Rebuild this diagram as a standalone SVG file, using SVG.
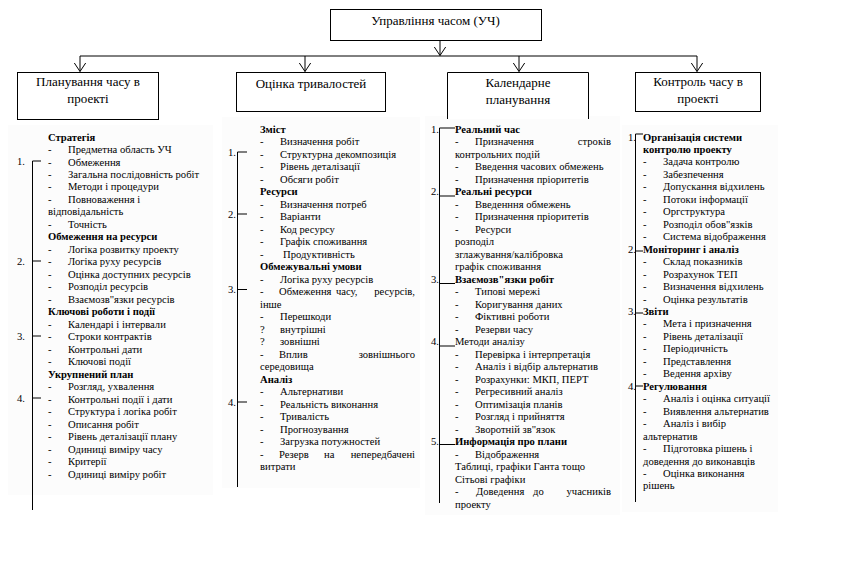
<svg xmlns="http://www.w3.org/2000/svg" width="853" height="586" viewBox="0 0 853 586">
<defs>
<marker id="chev" markerWidth="14" markerHeight="14" refX="9" refY="7" orient="auto" markerUnits="userSpaceOnUse">
<path d="M0,1 L9,7 L0,13" fill="none" stroke="#000" stroke-width="1"/>
</marker>
<style>
text{font-family:"Liberation Serif","Times New Roman",serif;fill:#000}
.h{font-size:13px;text-anchor:middle}
.t{font-size:10.6px}
.b{font-size:10.6px;font-weight:bold}
.box{fill:#fff;stroke:#000;stroke-width:1}
.ln{fill:none;stroke:#000;stroke-width:1}
.pn{fill:#fcfcfc;stroke:none}
</style>
</defs>
<rect width="853" height="586" fill="#fff"/>
<rect class="pn" x="8" y="125" width="205" height="370"/>
<rect class="pn" x="222" y="117" width="198" height="371"/>
<rect class="pn" x="425" y="116" width="195" height="399"/>
<rect class="pn" x="622" y="125" width="156" height="387"/>

<g id="connectors">
<path class="ln" d="M440,40 V55.5" marker-end="url(#chev)"/>
<path class="ln" d="M80,56 H697"/>
<path class="ln" d="M80,56 V71.5" marker-end="url(#chev)"/>
<path class="ln" d="M305,56 V71.5" marker-end="url(#chev)"/>
<path class="ln" d="M519,56 V71.5" marker-end="url(#chev)"/>
<path class="ln" d="M697,56 V71.5" marker-end="url(#chev)"/>
</g>

<g id="root">
<rect class="box" x="330.5" y="9.5" width="211" height="31"/>
<text class="h" x="435.5" y="24.5">Управління часом (УЧ)</text>
</g>
<g id="n1">
<rect class="box" x="17.5" y="72.5" width="141" height="47"/>
<text class="h" x="88" y="86">Планування часу в</text>
<text class="h" x="88" y="103">проекті</text>
</g>
<g id="n2">
<rect class="box" x="236.5" y="72.5" width="149" height="39"/>
<text class="h" x="311" y="88">Оцінка тривалостей</text>
</g>
<g id="n3">
<path class="box" d="M447.5,119 V72.5 H588.5 V119"/>
<text class="h" x="518" y="87">Календарне</text>
<text class="h" x="518" y="103.5">планування</text>
</g>
<g id="n4">
<rect class="box" x="635.5" y="72.5" width="125" height="39"/>
<text class="h" x="698" y="86">Контроль часу в</text>
<text class="h" x="698" y="103">проекті</text>
</g>

<g id="list1">
<path class="ln" d="M32.5,161 V510 M32.5,161 H41 M32.5,261 H41 M32.5,336 H41 M32.5,398 H41"/>
<text class="t" x="17" y="164.5">1.</text>
<text class="t" x="17" y="264.5">2.</text>
<text class="t" x="17" y="339.5">3.</text>
<text class="t" x="17" y="401.5">4.</text>
<text class="b" x="48" y="140.5">Стратегія</text>
<text class="t" x="48" y="153">-</text><text class="t" x="68" y="153">Предметна область УЧ</text>
<text class="t" x="48" y="165.5">-</text><text class="t" x="68" y="165.5">Обмеження</text>
<text class="t" x="48" y="177.9">-</text><text class="t" x="68" y="177.9">Загальна послідовність робіт</text>
<text class="t" x="48" y="190.4">-</text><text class="t" x="68" y="190.4">Методи і процедури</text>
<text class="t" x="48" y="202.9">-</text><text class="t" x="68" y="202.9">Повноваження і</text>
<text class="t" x="48" y="215.4">відповідальність</text>
<text class="t" x="48" y="227.9">-</text><text class="t" x="68" y="227.9">Точність</text>
<text class="b" x="48" y="240.3">Обмеження на ресурси</text>
<text class="t" x="48" y="252.8">-</text><text class="t" x="68" y="252.8">Логіка розвитку проекту</text>
<text class="t" x="48" y="265.3">-</text><text class="t" x="68" y="265.3">Логіка руху ресурсів</text>
<text class="t" x="48" y="277.8">-</text><text class="t" x="68" y="277.8">Оцінка доступних ресурсів</text>
<text class="t" x="48" y="290.3">-</text><text class="t" x="68" y="290.3">Розподіл ресурсів</text>
<text class="t" x="48" y="302.7">-</text><text class="t" x="68" y="302.7">Взаємозв"язки ресурсів</text>
<text class="b" x="48" y="315.2">Ключові роботи і події</text>
<text class="t" x="48" y="327.7">-</text><text class="t" x="68" y="327.7">Календарі і інтервали</text>
<text class="t" x="48" y="340.2">-</text><text class="t" x="68" y="340.2">Строки контрактів</text>
<text class="t" x="48" y="352.7">-</text><text class="t" x="68" y="352.7">Контрольні дати</text>
<text class="t" x="48" y="365.1">-</text><text class="t" x="68" y="365.1">Ключові події</text>
<text class="b" x="48" y="377.6">Укрупнений план</text>
<text class="t" x="48" y="390.1">-</text><text class="t" x="68" y="390.1">Розгляд, ухвалення</text>
<text class="t" x="48" y="402.6">-</text><text class="t" x="68" y="402.6">Контрольні події і дати</text>
<text class="t" x="48" y="415.1">-</text><text class="t" x="68" y="415.1">Структура і логіка робіт</text>
<text class="t" x="48" y="427.5">-</text><text class="t" x="68" y="427.5">Описання робіт</text>
<text class="t" x="48" y="440">-</text><text class="t" x="68" y="440">Рівень деталізації плану</text>
<text class="t" x="48" y="452.5">-</text><text class="t" x="68" y="452.5">Одиниці виміру часу</text>
<text class="t" x="48" y="465">-</text><text class="t" x="68" y="465">Критерії</text>
<text class="t" x="48" y="477.5">-</text><text class="t" x="68" y="477.5">Одиниці виміру робіт</text>
</g>

<g id="list2">
<path class="ln" d="M237.5,152 V487 M237.5,152 H247 M237.5,214 H247 M237.5,289.5 H247 M237.5,402 H247"/>
<text class="t" x="228" y="155.5">1.</text>
<text class="t" x="228" y="217.5">2.</text>
<text class="t" x="228" y="293">3.</text>
<text class="t" x="228" y="405.5">4.</text>
<text class="b" x="260" y="132.5">Зміст</text>
<text class="t" x="260" y="145">-</text><text class="t" x="280" y="145">Визначення робіт</text>
<text class="t" x="260" y="157.5">-</text><text class="t" x="280" y="157.5">Структурна декомпозиція</text>
<text class="t" x="260" y="170">-</text><text class="t" x="280" y="170">Рівень деталізації</text>
<text class="t" x="260" y="182.5">-</text><text class="t" x="280" y="182.5">Обсяги робіт</text>
<text class="b" x="260" y="195">Ресурси</text>
<text class="t" x="260" y="207.5">-</text><text class="t" x="280" y="207.5">Визначення потреб</text>
<text class="t" x="260" y="220">-</text><text class="t" x="280" y="220">Варіанти</text>
<text class="t" x="260" y="232.5">-</text><text class="t" x="280" y="232.5">Код ресурсу</text>
<text class="t" x="260" y="245">-</text><text class="t" x="280" y="245">Графік споживання</text>
<text class="t" x="260" y="257.5">-</text><text class="t" x="283" y="257.5">Продуктивність</text>
<text class="b" x="260" y="270">Обмежувальні умови</text>
<text class="t" x="260" y="282.5">-</text><text class="t" x="280" y="282.5">Логіка руху ресурсів</text>
<text class="t" x="260" y="295">-</text><text class="t" x="279" y="295">Обмеження</text><text class="t" x="336" y="295">часу,</text><text class="t" x="415" y="295" text-anchor="end">ресурсів,</text>
<text class="t" x="260" y="307.5">інше</text>
<text class="t" x="260" y="320">-</text><text class="t" x="280" y="320">Перешкоди</text>
<text class="t" x="260" y="332.5">?</text><text class="t" x="280" y="332.5">внутрішні</text>
<text class="t" x="260" y="345">?</text><text class="t" x="280" y="345">зовнішні</text>
<text class="t" x="260" y="357.5">-</text><text class="t" x="279" y="357.5">Вплив</text><text class="t" x="415" y="357.5" text-anchor="end">зовнішнього</text>
<text class="t" x="260" y="370">середовища</text>
<text class="b" x="260" y="382.5">Аналіз</text>
<text class="t" x="260" y="395">-</text><text class="t" x="280" y="395">Альтернативи</text>
<text class="t" x="260" y="407.5">-</text><text class="t" x="280" y="407.5">Реальність виконання</text>
<text class="t" x="260" y="420">-</text><text class="t" x="280" y="420">Тривалість</text>
<text class="t" x="260" y="432.5">-</text><text class="t" x="280" y="432.5">Прогнозування</text>
<text class="t" x="260" y="445">-</text><text class="t" x="280" y="445">Загрузка потужностей</text>
<text class="t" x="260" y="457.5">-</text><text class="t" x="279" y="457.5">Резерв</text><text class="t" x="324" y="457.5">на</text><text class="t" x="415" y="457.5" text-anchor="end">непередбачені</text>
<text class="t" x="260" y="470">витрати</text>
</g>

<g id="list3">
<path class="ln" d="M439.5,128 V503 M439.5,128 H455 M439.5,196 H455 M439.5,283.5 H455 M439.5,346 H455 M439.5,444.5 H455"/>
<text class="t" x="431" y="132.5">1.</text>
<text class="t" x="431" y="195">2.</text>
<text class="t" x="431" y="282.5">3.</text>
<text class="t" x="431" y="345">4.</text>
<text class="t" x="431" y="445">5.</text>
<text class="b" x="455" y="132.5">Реальний час</text>
<text class="t" x="455" y="145">-</text><text class="t" x="475" y="145">Призначення</text><text class="t" x="611" y="145" text-anchor="end">строків</text>
<text class="t" x="455" y="157.5">контрольних подій</text>
<text class="t" x="455" y="170">-</text><text class="t" x="475" y="170">Введення  часових обмежень</text>
<text class="t" x="455" y="182.5">-</text><text class="t" x="475" y="182.5">Призначення пріоритетів</text>
<text class="b" x="455" y="195">Реальні ресурси</text>
<text class="t" x="455" y="207.5">-</text><text class="t" x="475" y="207.5">Введенння обмежень</text>
<text class="t" x="455" y="220">-</text><text class="t" x="475" y="220">Призначення пріоритетів</text>
<text class="t" x="455" y="232.5">-</text><text class="t" x="475" y="232.5">Ресурси</text>
<text class="t" x="455" y="245">розподіл</text>
<text class="t" x="455" y="257.5">зглажування/калібровка</text>
<text class="t" x="455" y="270">графік споживання</text>
<text class="b" x="455" y="282.5">Взаємозв"язки робіт</text>
<text class="t" x="455" y="295">-</text><text class="t" x="475" y="295">Типові мережі</text>
<text class="t" x="455" y="307.5">-</text><text class="t" x="475" y="307.5">Коригування даних</text>
<text class="t" x="455" y="320">-</text><text class="t" x="475" y="320">Фіктивні роботи</text>
<text class="t" x="455" y="332.5">-</text><text class="t" x="475" y="332.5">Резерви часу</text>
<text class="t" x="455" y="345">Методи аналізу</text>
<text class="t" x="455" y="357.5">-</text><text class="t" x="475" y="357.5">Перевірка і інтерпретація</text>
<text class="t" x="455" y="370">-</text><text class="t" x="475" y="370">Аналіз і відбір альтернатив</text>
<text class="t" x="455" y="382.5">-</text><text class="t" x="475" y="382.5">Розрахунки: МКП, ПЕРТ</text>
<text class="t" x="455" y="395">-</text><text class="t" x="475" y="395">Регресивний аналіз</text>
<text class="t" x="455" y="407.5">-</text><text class="t" x="475" y="407.5">Оптимізація планів</text>
<text class="t" x="455" y="420">-</text><text class="t" x="475" y="420">Розгляд і прийняття</text>
<text class="t" x="455" y="432.5">-</text><text class="t" x="475" y="432.5">Зворотній зв"язок</text>
<text class="b" x="455" y="445">Информація про плани</text>
<text class="t" x="455" y="457.5">-</text><text class="t" x="475" y="457.5">Відображення</text>
<text class="t" x="455" y="470">Таблиці, графіки Ганта тощо</text>
<text class="t" x="455" y="482.5">Сітьові  графіки</text>
<text class="t" x="455" y="495">-</text><text class="t" x="476" y="495">Доведення</text><text class="t" x="533" y="495">до</text><text class="t" x="611" y="495" text-anchor="end">учасників</text>
<text class="t" x="455" y="507.5">проекту</text>
</g>

<g id="list4">
<path class="ln" d="M635.5,134 V502 M635.5,134 H643 M635.5,251 H643 M635.5,313 H643 M635.5,386 H643"/>
<text class="t" x="628" y="140.5">1.</text>
<text class="t" x="628" y="252.6">2.</text>
<text class="t" x="628" y="314.9">3.</text>
<text class="t" x="628" y="389.7">4.</text>
<text class="b" x="643" y="140.5">Організація системи</text>
<text class="b" x="643" y="153">контролю проекту</text>
<text class="t" x="643" y="165.4">-</text><text class="t" x="663" y="165.4">Задача контролю</text>
<text class="t" x="643" y="177.9">-</text><text class="t" x="663" y="177.9">Забезпечення</text>
<text class="t" x="643" y="190.3">-</text><text class="t" x="663" y="190.3">Допускання відхилень</text>
<text class="t" x="643" y="202.8">-</text><text class="t" x="663" y="202.8">Потоки інформації</text>
<text class="t" x="643" y="215.3">-</text><text class="t" x="663" y="215.3">Оргструктура</text>
<text class="t" x="643" y="227.7">-</text><text class="t" x="663" y="227.7">Розподіл обов"язків</text>
<text class="t" x="643" y="240.2">-</text><text class="t" x="663" y="240.2">Система відображення</text>
<text class="b" x="643" y="252.6">Моніторинг і аналіз</text>
<text class="t" x="643" y="265.1">-</text><text class="t" x="663" y="265.1">Склад показників</text>
<text class="t" x="643" y="277.6">-</text><text class="t" x="663" y="277.6">Розрахунок ТЕП</text>
<text class="t" x="643" y="290">-</text><text class="t" x="663" y="290">Визначення відхилень</text>
<text class="t" x="643" y="302.5">-</text><text class="t" x="663" y="302.5">Оцінка результатів</text>
<text class="b" x="643" y="314.9">Звіти</text>
<text class="t" x="643" y="327.4">-</text><text class="t" x="663" y="327.4">Мета і призначення</text>
<text class="t" x="643" y="339.8">-</text><text class="t" x="663" y="339.8">Рівень деталізації</text>
<text class="t" x="643" y="352.3">-</text><text class="t" x="663" y="352.3">Періодичність</text>
<text class="t" x="643" y="364.8">-</text><text class="t" x="663" y="364.8">Представлення</text>
<text class="t" x="643" y="377.2">-</text><text class="t" x="663" y="377.2">Ведення архіву</text>
<text class="b" x="643" y="389.7">Регулювання</text>
<text class="t" x="643" y="402.2">-</text><text class="t" x="663" y="402.2">Аналіз і оцінка ситуації</text>
<text class="t" x="643" y="414.6">-</text><text class="t" x="663" y="414.6">Виявлення альтернатив</text>
<text class="t" x="643" y="427.1">-</text><text class="t" x="663" y="427.1">Аналіз і вибір</text>
<text class="t" x="643" y="439.5">альтернатив</text>
<text class="t" x="643" y="452">-</text><text class="t" x="663" y="452">Підготовка рішень і</text>
<text class="t" x="643" y="464.5">доведення до виконавців</text>
<text class="t" x="643" y="476.9">-</text><text class="t" x="663" y="476.9">Оцінка виконання</text>
<text class="t" x="643" y="489.4">рішень</text>
</g>
</svg>
